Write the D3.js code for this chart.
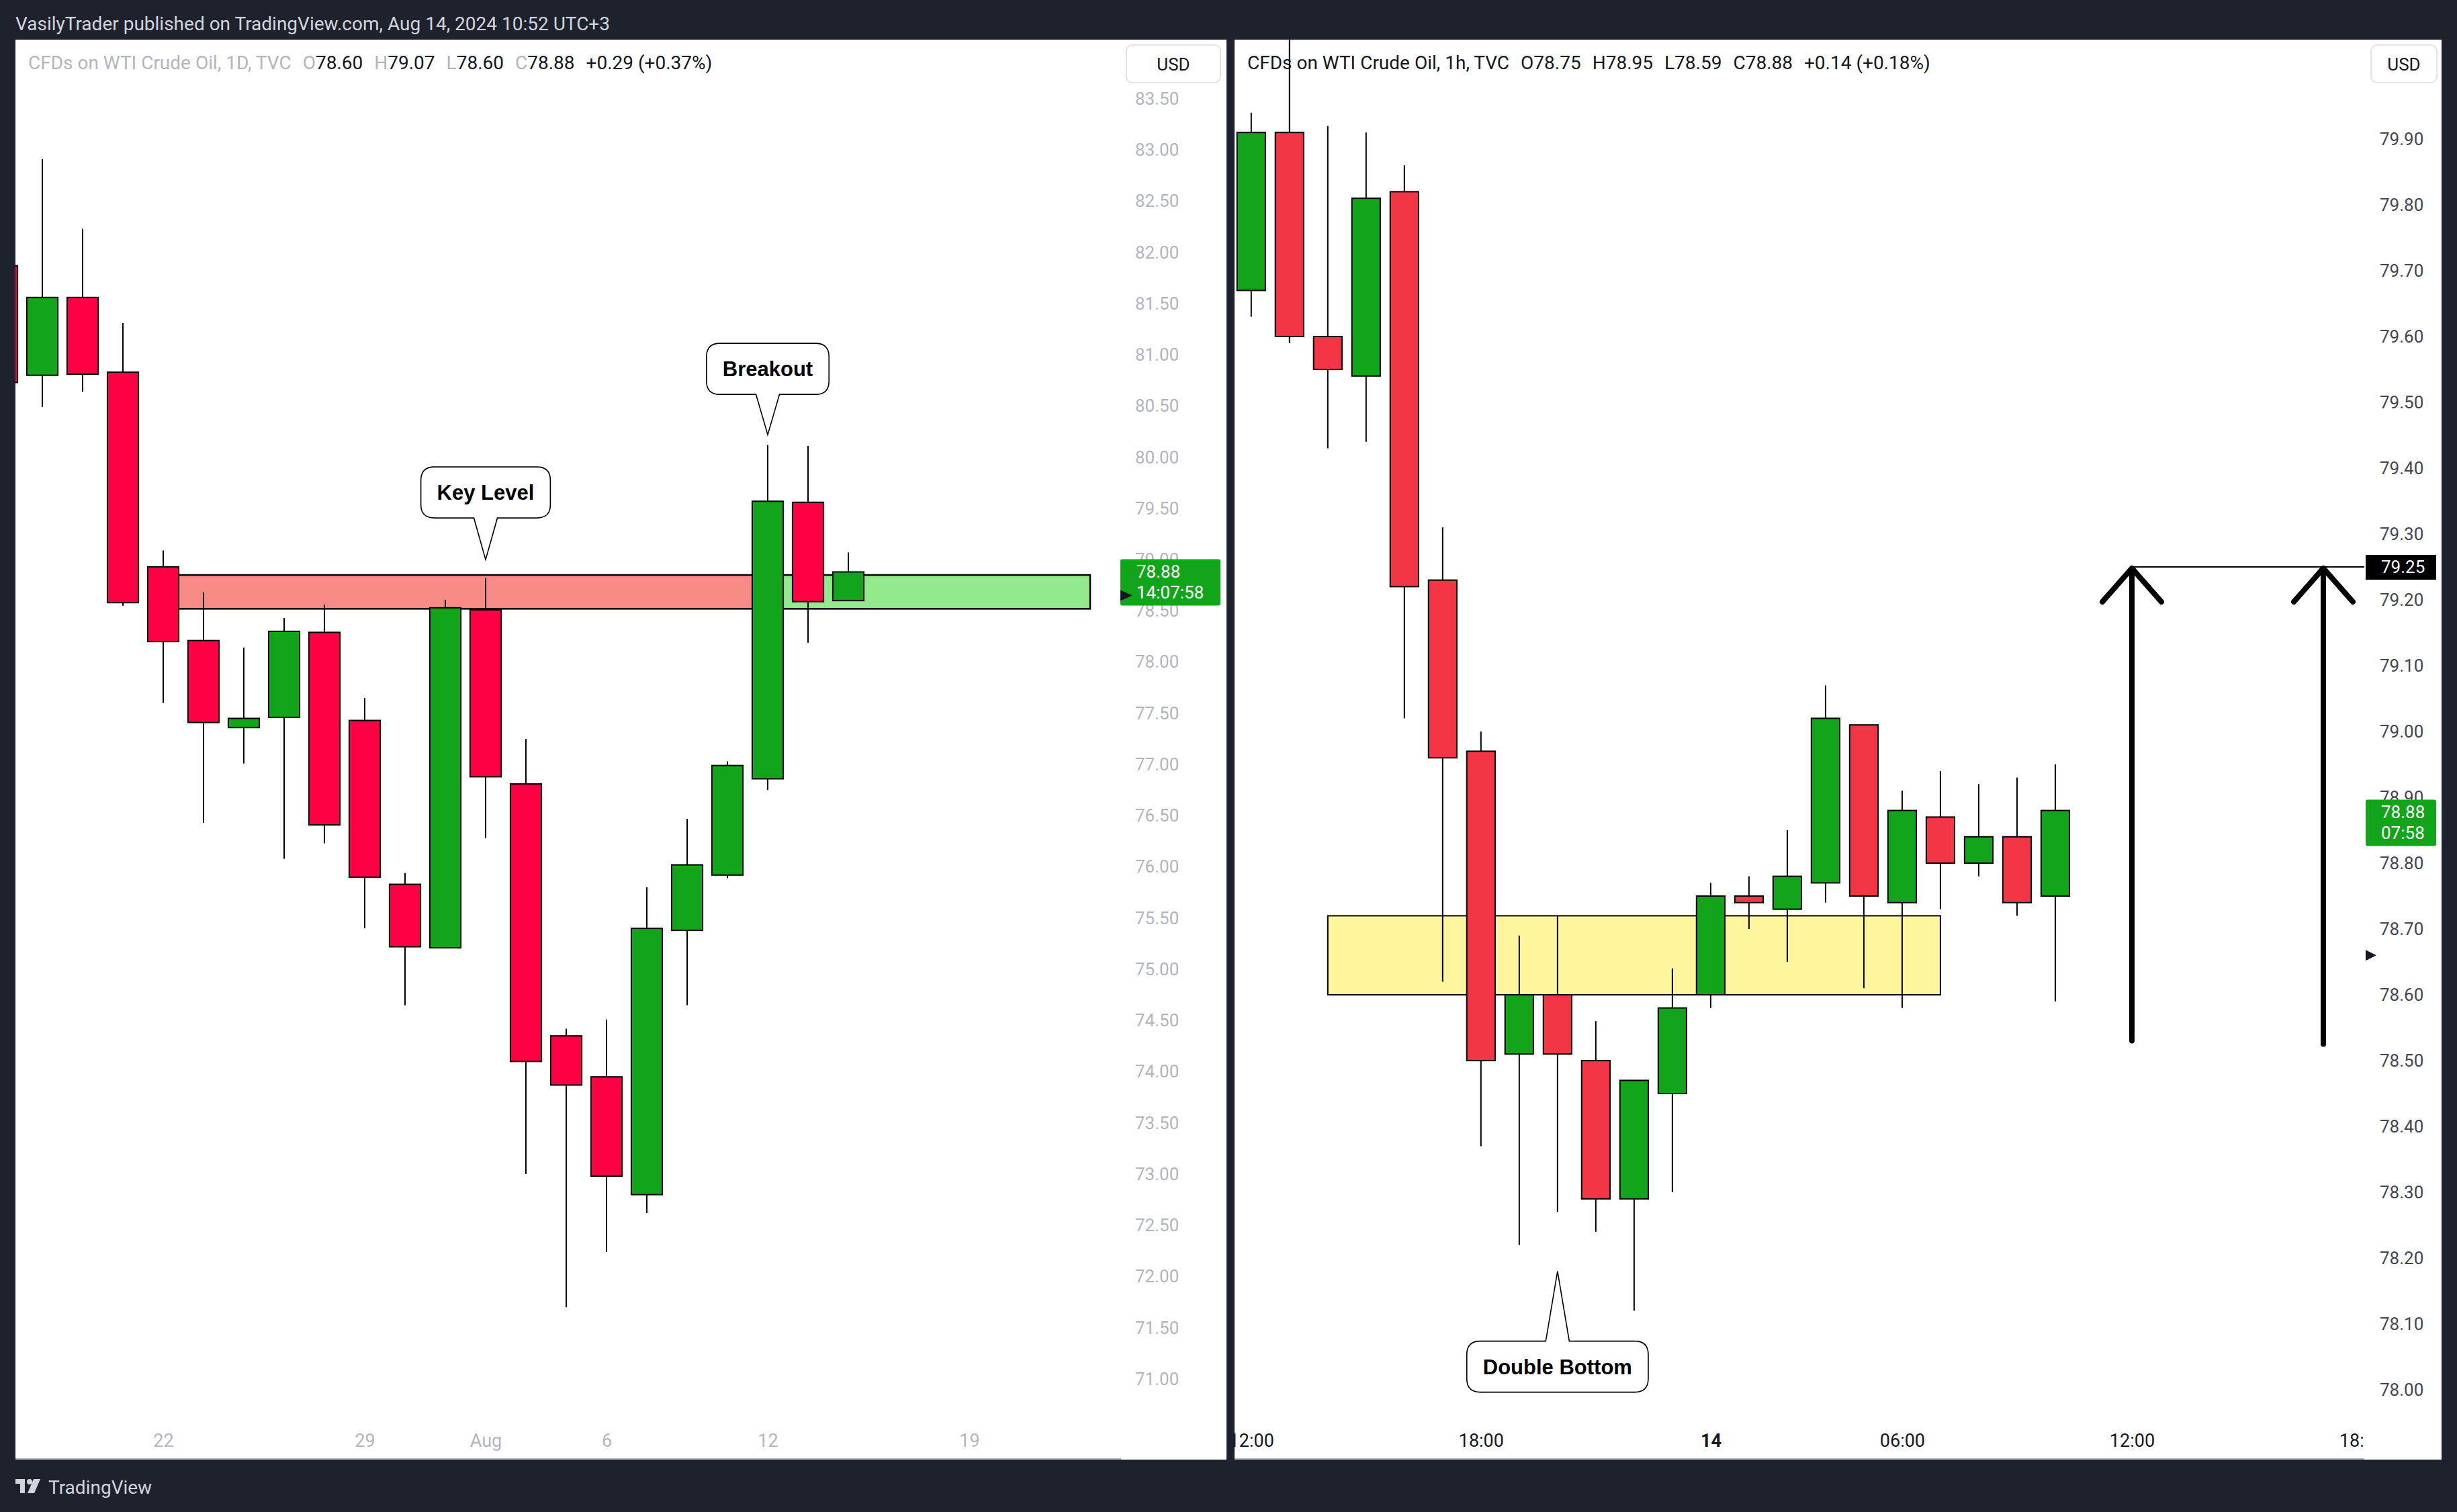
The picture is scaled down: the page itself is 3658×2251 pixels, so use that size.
<!DOCTYPE html>
<html><head><meta charset="utf-8">
<script src="https://cdn.jsdelivr.net/npm/d3@7"></script>
<style>html,body{margin:0;padding:0;background:#1e222d;} svg{display:block;}</style>
</head><body>
<svg id="c" width="3658" height="2251"></svg>
<script>
// ---------------- DATA ----------------
const dailyDates = ["Jul 16","Jul 17","Jul 18","Jul 19","Jul 22","Jul 23","Jul 24","Jul 25","Jul 26","Jul 29","Jul 30","Jul 31","Aug 1","Aug 2","Aug 5","Aug 6","Aug 7","Aug 8","Aug 9","Aug 12","Aug 13","Aug 14"];
const dailyOpen  = [81.87,80.80,81.56,80.83,78.93,78.21,77.36,77.46,78.29,77.43,75.83,75.21,78.51,76.81,74.35,73.95,72.80,75.38,75.92,76.86,79.56,78.60];
const dailyHigh  = [82.00,82.91,82.23,81.31,79.09,78.68,78.14,78.43,78.56,77.65,75.94,78.61,78.82,77.25,74.42,74.51,75.80,76.47,77.03,80.12,80.11,79.07];
const dailyLow   = [80.60,80.49,80.64,78.55,77.60,76.43,77.01,76.08,76.23,75.40,74.65,75.21,76.28,73.00,71.70,72.24,72.62,74.65,75.89,76.75,78.19,78.60];
const dailyClose = [80.73,81.56,80.81,78.58,78.20,77.41,77.45,78.30,76.41,75.90,75.22,78.53,76.88,74.10,73.87,72.98,75.40,76.02,76.99,79.57,78.59,78.88];

const hourlyTimes = ["13 12:00","13 13:00","13 14:00","13 15:00","13 16:00","13 17:00","13 18:00","13 19:00","13 20:00","13 21:00","13 22:00","13 23:00","14 01:00","14 02:00","14 03:00","14 04:00","14 05:00","14 06:00","14 07:00","14 08:00","14 09:00","14 10:00"];
const hourlyOpen  = [79.67,79.91,79.60,79.54,79.82,79.23,78.97,78.51,78.60,78.50,78.29,78.45,78.60,78.75,78.73,78.77,79.01,78.74,78.87,78.80,78.84,78.75];
const hourlyHigh  = [79.94,80.10,79.92,79.91,79.86,79.31,79.00,78.69,78.72,78.56,78.47,78.64,78.77,78.78,78.85,79.07,79.01,78.91,78.94,78.92,78.93,78.95];
const hourlyLow   = [79.63,79.59,79.43,79.44,79.02,78.62,78.37,78.22,78.27,78.24,78.12,78.30,78.58,78.70,78.65,78.74,78.61,78.58,78.73,78.78,78.72,78.59];
const hourlyClose = [79.91,79.60,79.55,79.81,79.22,78.96,78.50,78.60,78.51,78.29,78.47,78.58,78.75,78.74,78.78,79.02,78.75,78.88,78.80,78.84,78.74,78.88];

const dailyPriceTicks = [71.0,71.5,72.0,72.5,73.0,73.5,74.0,74.5,75.0,75.5,76.0,76.5,77.0,77.5,78.0,78.5,79.0,79.5,80.0,80.5,81.0,81.5,82.0,82.5,83.0,83.5];
const hourlyPriceTicks = [78.0,78.1,78.2,78.3,78.4,78.5,78.6,78.7,78.8,78.9,79.0,79.1,79.2,79.3,79.4,79.5,79.6,79.7,79.8,79.9];
const dailyTimeLabels = ["22","29","Aug","6","12","19"];
const dailyTimeIndex  = [4,9,12,15,19,24];
const hourlyTimeLabels = ["12:00","18:00","14","06:00","12:00","18:00"];
const hourlyTimeIndex  = [0,6,12,17,23,29];

// drawings (anchored on data: bar index + price)
const keyZoneIdx = [4,19,27];           // red from 4 to 19, green 19 to 27
const keyZonePrice = [78.85,78.52];     // top, bottom
const demandZoneIdx = [2,18];
const demandZonePrice = [78.72,78.60];
const targetPrice = 79.25;
const arrowIdx = [23,28];
const arrowBase = [78.53,78.525];
const calloutText = ["Key Level","Breakout","Double Bottom"];
const calloutIdx = [12,19,8];
const calloutPrice = [79.0,80.22,78.18];

// ---------------- LAYOUT ----------------
const svg = d3.select("#c");
const BG = "#1e222d";
const FONT = "Roboto, 'Liberation Sans', sans-serif";
const BOLD = "'Liberation Sans', Arial, sans-serif";
const RED_D = "#ff0044", GREEN = "#12a41a", RED_H = "#f23645";

svg.append("rect").attr("width",3658).attr("height",2251).attr("fill",BG);
svg.append("text").attr("x",23).attr("y",45).attr("fill","#d1d4dc")
  .attr("font-family",FONT).attr("font-size",28)
  .text("VasilyTrader published on TradingView.com, Aug 14, 2024 10:52 UTC+3");

const L = {x0:23, x1:1826, plotR:1669, y0:59, y1:2173};
const R = {x0:1838, x1:3635, plotR:3520, y0:59, y1:2173};
svg.append("rect").attr("x",L.x0).attr("y",L.y0).attr("width",L.x1-L.x0).attr("height",L.y1-L.y0).attr("fill","#fff");
svg.append("rect").attr("x",R.x0).attr("y",R.y0).attr("width",R.x1-R.x0).attr("height",R.y1-R.y0).attr("fill","#fff");

const defs = svg.append("defs");
defs.append("clipPath").attr("id","clipL").append("rect").attr("x",L.x0).attr("y",L.y0).attr("width",L.plotR-L.x0).attr("height",L.y1-L.y0);
defs.append("clipPath").attr("id","clipR").append("rect").attr("x",R.x0).attr("y",R.y0).attr("width",R.plotR-R.x0).attr("height",R.y1-R.y0);

// scales
const xL = d3.scaleLinear().domain([0.3333,27.7667]).range([L.x0,L.plotR]);
const yL = d3.scaleLinear().domain([71.0,83.5]).range([2053,147]);
const xR = d3.scaleLinear().domain([-0.435,29.07]).range([R.x0,R.plotR]);
const yR = d3.scaleLinear().domain([78.0,79.9]).range([2069,207]);

// ---------------- HEADERS ----------------
function header(x, parts){
  const t = svg.append("text").attr("x",x).attr("y",103).attr("font-family",FONT).attr("font-size",28);
  parts.forEach((p,i)=>{ t.append("tspan").attr("fill",p[1]).attr("dx",p[2]||0).text(p[0]); });
}
const G1="#b2b5be", K="#131722";
header(42,[["CFDs on WTI Crude Oil, 1D, TVC",G1],["O",G1,17],["78.60",K],["H",G1,17],["79.07",K],["L",G1,17],["78.60",K],["C",G1,17],["78.88",K],["+0.29 (+0.37%)",K,17]]);
header(1857,[["CFDs on WTI Crude Oil, 1h, TVC",K],["O",K,17],["78.75",K],["H",K,17],["78.95",K],["L",K,17],["78.59",K],["C",K,17],["78.88",K],["+0.14 (+0.18%)",K,17]]);

// ---------------- LEFT CHART ----------------
const gL = svg.append("g").attr("clip-path","url(#clipL)");
gL.append("rect").attr("x",xL(keyZoneIdx[0])).attr("y",yL(keyZonePrice[0]))
  .attr("width",xL(keyZoneIdx[1])-xL(keyZoneIdx[0])).attr("height",yL(keyZonePrice[1])-yL(keyZonePrice[0]))
  .attr("fill","#f98b86").attr("stroke","#000").attr("stroke-width",2.5);
gL.append("rect").attr("x",xL(keyZoneIdx[1])).attr("y",yL(keyZonePrice[0]))
  .attr("width",xL(keyZoneIdx[2])-xL(keyZoneIdx[1])).attr("height",yL(keyZonePrice[1])-yL(keyZonePrice[0]))
  .attr("fill","#93ea8d").attr("stroke","#000").attr("stroke-width",2.5);

function drawCandles(g, x, y, O, Hh, Lw, C, bw, up, dn){
  const idx = d3.range(O.length);
  g.selectAll(null).data(idx).enter().append("line")
    .attr("x1",i=>x(i)).attr("x2",i=>x(i)).attr("y1",i=>y(Hh[i])).attr("y2",i=>y(Lw[i]))
    .attr("stroke","#000").attr("stroke-width",2);
  g.selectAll(null).data(idx).enter().append("rect")
    .attr("x",i=>x(i)-bw/2).attr("width",bw)
    .attr("y",i=>y(Math.max(O[i],C[i])))
    .attr("height",i=>Math.max(2,Math.abs(y(O[i])-y(C[i]))))
    .attr("fill",i=>C[i]>=O[i]?up:dn).attr("stroke","#000").attr("stroke-width",2);
}
drawCandles(gL, xL, yL, dailyOpen, dailyHigh, dailyLow, dailyClose, (xL(1)-xL(0))*0.77, GREEN, RED_D);

// left price axis
const axL = svg.append("g").attr("transform",`translate(${L.plotR+21},0)`)
  .call(d3.axisRight(yL).tickValues(dailyPriceTicks).tickSize(0).tickPadding(0).tickFormat(d=>d.toFixed(2)));
axL.select(".domain").remove();
axL.selectAll("text").attr("fill","#b2b5be").attr("font-family",FONT).attr("font-size",26);

// left time axis
const axLb = svg.append("g").attr("transform",`translate(0,2135)`)
  .call(d3.axisBottom(xL).tickValues(dailyTimeIndex).tickSize(0).tickPadding(0).tickFormat((d,i)=>dailyTimeLabels[i]));
axLb.select(".domain").remove();
axLb.selectAll("text").attr("fill","#b2b5be").attr("font-family",FONT).attr("font-size",27);
svg.append("line").attr("x1",L.x0).attr("x2",L.plotR).attr("y1",2172).attr("y2",2172).attr("stroke","#b2b5be").attr("stroke-width",2);

// USD boxes
function usd(x,w){
  svg.append("rect").attr("x",x).attr("y",67).attr("width",w).attr("height",56).attr("rx",9).attr("fill","#fff").attr("stroke","#e0e3eb").attr("stroke-width",2);
  svg.append("text").attr("x",x+w/2).attr("y",105).attr("text-anchor","middle").attr("font-family",FONT).attr("font-size",26).attr("fill",K).text("USD");
}
usd(1677,140);
usd(3530,98);

// last price label left
const lastL = dailyClose[dailyClose.length-1];
svg.append("rect").attr("x",L.plotR-1).attr("y",yL(lastL)-19).attr("width",149).attr("height",69).attr("rx",3).attr("fill",GREEN);
svg.append("text").attr("x",1692).attr("y",yL(lastL)+9).attr("fill","#fff").attr("font-family",FONT).attr("font-size",26).text(lastL.toFixed(2));
svg.append("text").attr("x",1692).attr("y",yL(lastL)+40).attr("fill","#fff").attr("font-family",FONT).attr("font-size",26).text("14:07:58");
svg.append("path").attr("d",`M${L.plotR-1},${yL(78.65)-8}L${L.plotR+17},${yL(78.65)}L${L.plotR-1},${yL(78.65)+8}Z`).attr("fill","#131722");

// ---------------- RIGHT CHART ----------------
const gR = svg.append("g").attr("clip-path","url(#clipR)");
gR.append("rect").attr("x",xR(demandZoneIdx[0])).attr("y",yR(demandZonePrice[0]))
  .attr("width",xR(demandZoneIdx[1])-xR(demandZoneIdx[0])).attr("height",yR(demandZonePrice[1])-yR(demandZonePrice[0]))
  .attr("fill","#fff59d").attr("stroke","#000").attr("stroke-width",2);
drawCandles(gR, xR, yR, hourlyOpen, hourlyHigh, hourlyLow, hourlyClose, (xR(1)-xR(0))*0.74, GREEN, RED_H);

// target line + arrows
gR.append("line").attr("x1",xR(arrowIdx[0])).attr("x2",R.plotR+2).attr("y1",yR(targetPrice)).attr("y2",yR(targetPrice)).attr("stroke","#000").attr("stroke-width",2);
arrowIdx.forEach((ai,k)=>{
  const ax = xR(ai), ty = yR(targetPrice)+2, by = yR(arrowBase[k]);
  gR.append("path").attr("d",`M${ax},${by}L${ax},${ty}M${ax-44},${ty+50}L${ax},${ty}L${ax+44},${ty+50}`)
    .attr("fill","none").attr("stroke","#000").attr("stroke-width",8).attr("stroke-linecap","round").attr("stroke-linejoin","round");
});

// right price axis
const axR = svg.append("g").attr("transform",`translate(${R.plotR+23},0)`)
  .call(d3.axisRight(yR).tickValues(hourlyPriceTicks).tickSize(0).tickPadding(0).tickFormat(d=>d.toFixed(2)));
axR.select(".domain").remove();
axR.selectAll("text").attr("fill","#434651").attr("font-family",FONT).attr("font-size",26);

// right time axis (clipped)
defs.append("clipPath").attr("id","clipRb").append("rect").attr("x",R.x0).attr("y",2080).attr("width",R.plotR-R.x0).attr("height",93);
const axRb = svg.append("g").attr("clip-path","url(#clipRb)").append("g").attr("transform",`translate(0,2135)`)
  .call(d3.axisBottom(xR).tickValues(hourlyTimeIndex).tickSize(0).tickPadding(0).tickFormat((d,i)=>hourlyTimeLabels[i]));
axRb.select(".domain").remove();
axRb.selectAll("text").attr("fill","#131722").attr("font-family",FONT).attr("font-size",27)
  .attr("font-weight",(d,i)=>hourlyTimeLabels[i]==="14"?"bold":"normal");
svg.append("line").attr("x1",R.x0).attr("x2",R.plotR).attr("y1",2172).attr("y2",2172).attr("stroke","#b2b5be").attr("stroke-width",2);

// right labels
svg.append("rect").attr("x",R.plotR+2).attr("y",yR(targetPrice)-18).attr("width",105).attr("height",37).attr("fill","#000");
svg.append("text").attr("x",3545).attr("y",yR(targetPrice)+9).attr("fill","#fff").attr("font-family",FONT).attr("font-size",26).text(targetPrice.toFixed(2));
const lastR = hourlyClose[hourlyClose.length-1];
svg.append("rect").attr("x",R.plotR+2).attr("y",yR(lastR)-16).attr("width",105).attr("height",69).attr("rx",3).attr("fill",GREEN);
svg.append("text").attr("x",3545).attr("y",yR(lastR)+11).attr("fill","#fff").attr("font-family",FONT).attr("font-size",26).text(lastR.toFixed(2));
svg.append("text").attr("x",3545).attr("y",yR(lastR)+42).attr("fill","#fff").attr("font-family",FONT).attr("font-size",26).text("07:58");
svg.append("path").attr("d",`M${R.plotR+2},${yR(78.66)-8}L${R.plotR+18},${yR(78.66)}L${R.plotR+2},${yR(78.66)+8}Z`).attr("fill","#131722");

// ---------------- CALLOUTS ----------------
function callout(text, tipX, tipY, dir, gap){
  const t = svg.append("text").attr("font-family",BOLD).attr("font-weight","bold").attr("font-size",31).attr("fill","#000")
    .attr("text-anchor","middle").text(text);
  const tw = t.node().getComputedTextLength();
  const w = tw + 48, h = 76, r = 20, bh = 17.5;
  const top = dir==="down" ? tipY - gap - h : tipY + gap;
  const l = tipX - w/2, rt = tipX + w/2, b = top + h;
  let p = `M${l+r},${top}`;
  if (dir==="up") p += `L${tipX-bh},${top}L${tipX},${tipY}L${tipX+bh},${top}`;
  p += `L${rt-r},${top}Q${rt},${top} ${rt},${top+r}L${rt},${b-r}Q${rt},${b} ${rt-r},${b}`;
  if (dir==="down") p += `L${tipX+bh},${b}L${tipX},${tipY}L${tipX-bh},${b}`;
  p += `L${l+r},${b}Q${l},${b} ${l},${b-r}L${l},${top+r}Q${l},${top} ${l+r},${top}Z`;
  svg.insert("path", () => t.node()).attr("d",p).attr("fill","#fff").attr("stroke","#000").attr("stroke-width",1.6);
  t.attr("x",tipX).attr("y",top+h/2+11);
}
callout(calloutText[0], xL(calloutIdx[0]), yL(calloutPrice[0]), "down", 62);
callout(calloutText[1], xL(calloutIdx[1]), yL(calloutPrice[1]), "down", 60);
callout(calloutText[2], xR(calloutIdx[2]), yR(calloutPrice[2]), "up", 104);

// ---------------- FOOTER LOGO ----------------
const lg = svg.append("g").attr("fill","#d1d4dc");
lg.append("rect").attr("x",23).attr("y",2202).attr("width",14).attr("height",7);
lg.append("rect").attr("x",30).attr("y",2202).attr("width",7).attr("height",21);
lg.append("circle").attr("cx",44).attr("cy",2206).attr("r",4);
lg.append("path").attr("d","M50,2202L60,2202L51,2223L41,2223Z");
svg.append("text").attr("x",72).attr("y",2224).attr("fill","#d1d4dc").attr("font-family",FONT).attr("font-size",28).text("TradingView");
</script>
</body></html>
